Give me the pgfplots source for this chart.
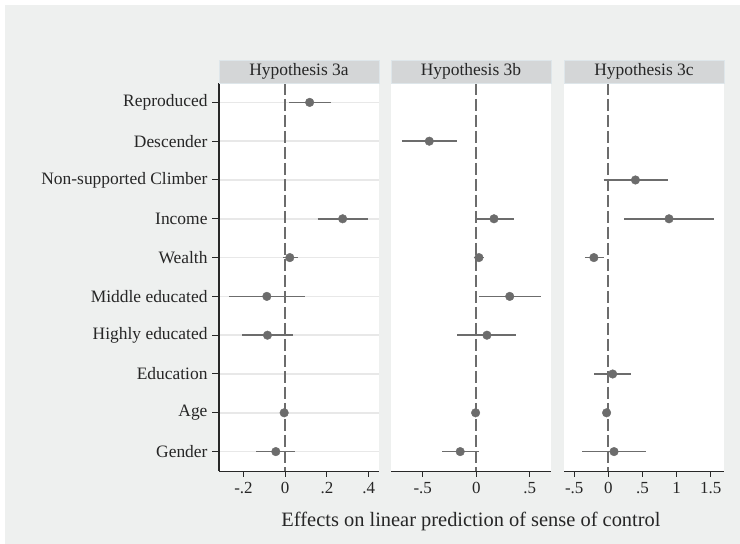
\documentclass[border=0pt]{standalone}
\usepackage{pgfplots}
\pgfplotsset{compat=1.18}
\usepackage{fontspec}
\setmainfont{Liberation Serif}
\definecolor{bgc}{RGB}{238,240,239}
\definecolor{hdr}{RGB}{212,214,215}
\definecolor{hdrline}{RGB}{222,230,234}
\definecolor{mk}{RGB}{108,108,108}
\definecolor{grd}{RGB}{232,232,232}
\definecolor{axc}{RGB}{40,40,40}

\tikzset{zl/.style={mk, line width=1.7bp, dash pattern=on 12bp off 4bp}}
\pgfplotsset{
  panel/.style={
    scale only axis, width=160bp, height=388bp,
    anchor=south west,
    y dir=reverse, ymin=0.5, ymax=10.5,
    ytick={1,...,10},
    axis background/.style={fill=white},
    axis x line*=bottom,
    axis y line*=left,
    axis line style={axc, line width=1bp},
    ymajorgrids, grid style={grd, line width=1.5bp},
    tick style={axc, line width=1bp},
    major tick length=6bp,
    xtick align=outside, ytick align=outside,
    tick label style={font=\fontsize{17}{19}\selectfont, text=black!85},
    /pgf/number format/assume math mode=true,
    xticklabel style={yshift=-2bp},
    clip=false,
  },
  ci/.style={mk, line width=1.6bp, mark=none, forget plot},
  pt/.style={only marks, mark=*, mark size=4.3bp, mark options={fill=mk, draw=mk}},
}

\begin{document}
\begin{tikzpicture}[x=1bp,y=1bp]
\fill[white] (0,0) rectangle (740,544);
\fill[bgc] (5,0) rectangle (740,539);

% ---------- Panel 1 ----------
\begin{axis}[panel, at={(219bp,73bp)},
  xmin=-0.317, xmax=0.449,
  xtick={-0.2,0,0.2,0.4}, xticklabels={-.2,0,.2,.4},
  yticklabels={Reproduced,Descender,Non-supported Climber,Income,Wealth,Middle educated,Highly educated,Education,Age,Gender},
  yticklabel style={font=\fontsize{17.5}{20}\selectfont, xshift=-2bp},
]
\draw[zl] (axis cs:0,0.5) -- (axis cs:0,10.5);
\addplot[ci] coordinates {(0.019,1) (0.219,1)};
\addplot[ci] coordinates {(0.155,4) (0.397,4)};
\addplot[ci] coordinates {(-0.013,5) (0.059,5)};
\addplot[ci] coordinates {(-0.267,6) (0.093,6)};
\addplot[ci] coordinates {(-0.206,7) (0.037,7)};
\addplot[ci] coordinates {(-0.011,9) (0.001,9)};
\addplot[ci] coordinates {(-0.139,10) (0.049,10)};
\addplot[pt] coordinates {(0.117,1) (0.275,4) (0.022,5) (-0.088,6) (-0.085,7) (-0.005,9) (-0.045,10)};
\draw[axc, line width=1.1bp] (axis cs:-0.317,0.5) -- (axis cs:-0.317,10.5);
\pgfplotsinvokeforeach{1,...,10}{\draw[axc, line width=1bp] (axis cs:-0.317,#1) -- ([xshift=-7bp]axis cs:-0.317,#1);}
\end{axis}

% ---------- Panel 2 ----------
\begin{axis}[panel, at={(391bp,73bp)},
  xmin=-0.797, xmax=0.699,
  xtick={-0.5,0,0.5}, xticklabels={-.5,0,.5},
  yticklabels={}, axis y line=none,
]
\draw[zl] (axis cs:0,0.5) -- (axis cs:0,10.5);
\addplot[ci] coordinates {(-0.696,2) (-0.182,2)};
\addplot[ci] coordinates {(0.0,4) (0.351,4)};
\addplot[ci] coordinates {(-0.025,5) (0.075,5)};
\addplot[ci] coordinates {(0.025,6) (0.608,6)};
\addplot[ci] coordinates {(-0.176,7) (0.373,7)};
\addplot[ci] coordinates {(-0.015,9) (0.003,9)};
\addplot[ci] coordinates {(-0.317,10) (0.025,10)};
\addplot[pt] coordinates {(-0.439,2) (0.166,4) (0.025,5) (0.313,6) (0.100,7) (-0.006,9) (-0.150,10)};
\end{axis}

% ---------- Panel 3 ----------
\begin{axis}[panel, at={(564bp,73bp)},
  xmin=-0.649, xmax=1.696,
  xtick={-0.5,0,0.5,1,1.5}, xticklabels={-.5,0,.5,1,1.5},
  yticklabels={}, axis y line=none,
]
\draw[zl] (axis cs:0,0.5) -- (axis cs:0,10.5);
\addplot[ci] coordinates {(-0.069,3) (0.880,3)};
\addplot[ci] coordinates {(0.236,4) (1.544,4)};
\addplot[ci] coordinates {(-0.344,5) (-0.069,5)};
\addplot[ci] coordinates {(-0.206,8) (0.329,8)};
\addplot[ci] coordinates {(-0.045,9) (-0.005,9)};
\addplot[ci] coordinates {(-0.379,10) (0.550,10)};
\addplot[pt] coordinates {(0.398,3) (0.890,4) (-0.211,5) (0.064,8) (-0.025,9) (0.084,10)};
\end{axis}

% ---------- Headers ----------
\foreach \xl/\txt in {219/Hypothesis 3a, 391/Hypothesis 3b, 564/Hypothesis 3c}{
  \filldraw[fill=hdr, draw=hdrline, line width=0.8bp] (\xl,461) rectangle ++(160,23);
  \node[font=\fontsize{17.5}{20}\selectfont, text=black!85] at (\xl+80,472.5) {\txt};
}

% ---------- X label ----------
\node[font=\fontsize{20.5}{23}\selectfont, text=black!85] at (471,23) {Effects on linear prediction of sense of control};
\end{tikzpicture}
\end{document}
